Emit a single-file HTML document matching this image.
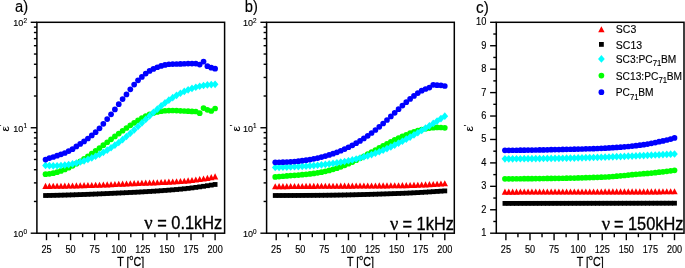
<!DOCTYPE html>
<html><head><meta charset="utf-8"><style>
html,body{margin:0;padding:0;background:#fff;width:685px;height:268px;overflow:hidden}
svg{display:block;will-change:transform}
</style></head><body>
<svg width="685" height="268" viewBox="0 0 685 268">
<rect width="685" height="268" fill="#fff"/>
<g fill="#000000"><rect x="43.14" y="193.11" width="4.8" height="4.8"/><rect x="46.99" y="193.04" width="4.8" height="4.8"/><rect x="50.84" y="192.96" width="4.8" height="4.8"/><rect x="54.70" y="192.88" width="4.8" height="4.8"/><rect x="58.55" y="192.78" width="4.8" height="4.8"/><rect x="62.41" y="192.68" width="4.8" height="4.8"/><rect x="66.26" y="192.57" width="4.8" height="4.8"/><rect x="70.11" y="192.46" width="4.8" height="4.8"/><rect x="73.97" y="192.33" width="4.8" height="4.8"/><rect x="77.82" y="192.20" width="4.8" height="4.8"/><rect x="81.67" y="192.07" width="4.8" height="4.8"/><rect x="85.53" y="191.93" width="4.8" height="4.8"/><rect x="89.38" y="191.78" width="4.8" height="4.8"/><rect x="93.23" y="191.63" width="4.8" height="4.8"/><rect x="97.09" y="191.47" width="4.8" height="4.8"/><rect x="100.94" y="191.31" width="4.8" height="4.8"/><rect x="104.80" y="191.14" width="4.8" height="4.8"/><rect x="108.65" y="190.97" width="4.8" height="4.8"/><rect x="112.50" y="190.80" width="4.8" height="4.8"/><rect x="116.36" y="190.63" width="4.8" height="4.8"/><rect x="120.21" y="190.45" width="4.8" height="4.8"/><rect x="124.06" y="190.27" width="4.8" height="4.8"/><rect x="127.92" y="190.08" width="4.8" height="4.8"/><rect x="131.77" y="189.90" width="4.8" height="4.8"/><rect x="135.63" y="189.70" width="4.8" height="4.8"/><rect x="139.48" y="189.50" width="4.8" height="4.8"/><rect x="143.33" y="189.28" width="4.8" height="4.8"/><rect x="147.19" y="189.05" width="4.8" height="4.8"/><rect x="151.04" y="188.82" width="4.8" height="4.8"/><rect x="154.89" y="188.57" width="4.8" height="4.8"/><rect x="158.75" y="188.30" width="4.8" height="4.8"/><rect x="162.60" y="188.03" width="4.8" height="4.8"/><rect x="166.46" y="187.73" width="4.8" height="4.8"/><rect x="170.31" y="187.43" width="4.8" height="4.8"/><rect x="174.16" y="187.10" width="4.8" height="4.8"/><rect x="178.02" y="186.76" width="4.8" height="4.8"/><rect x="181.87" y="186.38" width="4.8" height="4.8"/><rect x="185.72" y="185.96" width="4.8" height="4.8"/><rect x="189.58" y="185.50" width="4.8" height="4.8"/><rect x="193.43" y="184.99" width="4.8" height="4.8"/><rect x="197.29" y="184.46" width="4.8" height="4.8"/><rect x="201.14" y="183.90" width="4.8" height="4.8"/><rect x="204.99" y="183.31" width="4.8" height="4.8"/><rect x="208.85" y="182.70" width="4.8" height="4.8"/><rect x="212.70" y="182.08" width="4.8" height="4.8"/></g><g fill="#ff0000"><path d="M42.34 188.95L45.54 182.85L48.74 188.95Z"/><path d="M46.19 188.92L49.39 182.82L52.59 188.92Z"/><path d="M50.04 188.87L53.24 182.77L56.44 188.87Z"/><path d="M53.90 188.81L57.10 182.71L60.30 188.81Z"/><path d="M57.75 188.74L60.95 182.64L64.15 188.74Z"/><path d="M61.61 188.67L64.81 182.57L68.01 188.67Z"/><path d="M65.46 188.59L68.66 182.49L71.86 188.59Z"/><path d="M69.31 188.50L72.51 182.40L75.71 188.50Z"/><path d="M73.17 188.41L76.37 182.31L79.57 188.41Z"/><path d="M77.02 188.31L80.22 182.21L83.42 188.31Z"/><path d="M80.87 188.21L84.07 182.11L87.27 188.21Z"/><path d="M84.73 188.11L87.93 182.01L91.13 188.11Z"/><path d="M88.58 188.00L91.78 181.90L94.98 188.00Z"/><path d="M92.43 187.87L95.63 181.77L98.83 187.87Z"/><path d="M96.29 187.73L99.49 181.63L102.69 187.73Z"/><path d="M100.14 187.58L103.34 181.48L106.54 187.58Z"/><path d="M104.00 187.41L107.20 181.31L110.40 187.41Z"/><path d="M107.85 187.23L111.05 181.13L114.25 187.23Z"/><path d="M111.70 187.05L114.90 180.95L118.10 187.05Z"/><path d="M115.56 186.87L118.76 180.77L121.96 186.87Z"/><path d="M119.41 186.69L122.61 180.59L125.81 186.69Z"/><path d="M123.26 186.51L126.46 180.41L129.66 186.51Z"/><path d="M127.12 186.34L130.32 180.24L133.52 186.34Z"/><path d="M130.97 186.17L134.17 180.07L137.37 186.17Z"/><path d="M134.83 186.01L138.03 179.91L141.23 186.01Z"/><path d="M138.68 185.86L141.88 179.76L145.08 185.86Z"/><path d="M142.53 185.71L145.73 179.61L148.93 185.71Z"/><path d="M146.39 185.56L149.59 179.46L152.79 185.56Z"/><path d="M150.24 185.40L153.44 179.30L156.64 185.40Z"/><path d="M154.09 185.24L157.29 179.14L160.49 185.24Z"/><path d="M157.95 185.08L161.15 178.98L164.35 185.08Z"/><path d="M161.80 184.90L165.00 178.80L168.20 184.90Z"/><path d="M165.66 184.70L168.86 178.60L172.06 184.70Z"/><path d="M169.51 184.50L172.71 178.40L175.91 184.50Z"/><path d="M173.36 184.27L176.56 178.17L179.76 184.27Z"/><path d="M177.22 184.02L180.42 177.92L183.62 184.02Z"/><path d="M181.07 183.73L184.27 177.63L187.47 183.73Z"/><path d="M184.92 183.39L188.12 177.29L191.32 183.39Z"/><path d="M188.78 183.00L191.98 176.90L195.18 183.00Z"/><path d="M192.63 182.56L195.83 176.46L199.03 182.56Z"/><path d="M196.49 182.09L199.69 175.99L202.89 182.09Z"/><path d="M200.34 181.55L203.54 175.45L206.74 181.55Z"/><path d="M204.19 180.91L207.39 174.81L210.59 180.91Z"/><path d="M208.05 180.20L211.25 174.10L214.45 180.20Z"/><path d="M211.90 179.43L215.10 173.33L218.30 179.43Z"/></g><g fill="#00ff00"><circle cx="45.54" cy="174.17" r="2.85"/><circle cx="49.39" cy="173.82" r="2.85"/><circle cx="53.24" cy="173.16" r="2.85"/><circle cx="57.10" cy="172.20" r="2.85"/><circle cx="60.95" cy="170.97" r="2.85"/><circle cx="64.81" cy="169.48" r="2.85"/><circle cx="68.66" cy="167.76" r="2.85"/><circle cx="72.51" cy="165.83" r="2.85"/><circle cx="76.37" cy="163.71" r="2.85"/><circle cx="80.22" cy="161.41" r="2.85"/><circle cx="84.07" cy="158.97" r="2.85"/><circle cx="87.93" cy="156.39" r="2.85"/><circle cx="91.78" cy="153.70" r="2.85"/><circle cx="95.63" cy="150.93" r="2.85"/><circle cx="99.49" cy="148.09" r="2.85"/><circle cx="103.34" cy="145.19" r="2.85"/><circle cx="107.20" cy="142.27" r="2.85"/><circle cx="111.05" cy="139.35" r="2.85"/><circle cx="114.90" cy="136.43" r="2.85"/><circle cx="118.76" cy="133.55" r="2.85"/><circle cx="122.61" cy="130.73" r="2.85"/><circle cx="126.46" cy="127.98" r="2.85"/><circle cx="130.32" cy="125.33" r="2.85"/><circle cx="134.17" cy="122.79" r="2.85"/><circle cx="138.03" cy="120.40" r="2.85"/><circle cx="141.88" cy="118.19" r="2.85"/><circle cx="145.73" cy="116.20" r="2.85"/><circle cx="149.59" cy="114.46" r="2.85"/><circle cx="153.44" cy="113.02" r="2.85"/><circle cx="157.29" cy="111.92" r="2.85"/><circle cx="161.15" cy="111.17" r="2.85"/><circle cx="165.00" cy="110.73" r="2.85"/><circle cx="168.86" cy="110.53" r="2.85"/><circle cx="172.71" cy="110.52" r="2.85"/><circle cx="176.56" cy="110.61" r="2.85"/><circle cx="180.42" cy="110.78" r="2.85"/><circle cx="184.27" cy="110.98" r="2.85"/><circle cx="188.12" cy="111.18" r="2.85"/><circle cx="191.98" cy="111.38" r="2.85"/><circle cx="195.83" cy="111.52" r="2.85"/><circle cx="199.69" cy="113.20" r="2.85"/><circle cx="203.54" cy="108.10" r="2.85"/><circle cx="207.39" cy="109.80" r="2.85"/><circle cx="211.25" cy="111.00" r="2.85"/><circle cx="215.10" cy="108.50" r="2.85"/></g><g fill="#00ffff"><path d="M45.54 161.62L48.89 165.47L45.54 169.32L42.19 165.47Z"/><path d="M49.39 161.86L52.74 165.71L49.39 169.56L46.04 165.71Z"/><path d="M53.24 161.94L56.59 165.79L53.24 169.64L49.89 165.79Z"/><path d="M57.10 161.88L60.45 165.73L57.10 169.58L53.75 165.73Z"/><path d="M60.95 161.65L64.30 165.50L60.95 169.35L57.60 165.50Z"/><path d="M64.81 161.27L68.16 165.12L64.81 168.97L61.46 165.12Z"/><path d="M68.66 160.73L72.01 164.58L68.66 168.43L65.31 164.58Z"/><path d="M72.51 160.03L75.86 163.88L72.51 167.73L69.16 163.88Z"/><path d="M76.37 159.16L79.72 163.01L76.37 166.86L73.02 163.01Z"/><path d="M80.22 158.14L83.57 161.99L80.22 165.84L76.87 161.99Z"/><path d="M84.07 156.95L87.42 160.80L84.07 164.65L80.72 160.80Z"/><path d="M87.93 155.60L91.28 159.45L87.93 163.30L84.58 159.45Z"/><path d="M91.78 154.07L95.13 157.92L91.78 161.77L88.43 157.92Z"/><path d="M95.63 152.38L98.98 156.23L95.63 160.08L92.28 156.23Z"/><path d="M99.49 150.53L102.84 154.38L99.49 158.23L96.14 154.38Z"/><path d="M103.34 148.50L106.69 152.35L103.34 156.20L99.99 152.35Z"/><path d="M107.20 146.29L110.55 150.14L107.20 153.99L103.85 150.14Z"/><path d="M111.05 143.92L114.40 147.77L111.05 151.62L107.70 147.77Z"/><path d="M114.90 141.37L118.25 145.22L114.90 149.07L111.55 145.22Z"/><path d="M118.76 138.64L122.11 142.49L118.76 146.34L115.41 142.49Z"/><path d="M122.61 135.74L125.96 139.59L122.61 143.44L119.26 139.59Z"/><path d="M126.46 132.65L129.81 136.50L126.46 140.35L123.11 136.50Z"/><path d="M130.32 129.41L133.67 133.26L130.32 137.11L126.97 133.26Z"/><path d="M134.17 126.03L137.52 129.88L134.17 133.73L130.82 129.88Z"/><path d="M138.03 122.57L141.38 126.42L138.03 130.27L134.68 126.42Z"/><path d="M141.88 119.06L145.23 122.91L141.88 126.76L138.53 122.91Z"/><path d="M145.73 115.54L149.08 119.39L145.73 123.24L142.38 119.39Z"/><path d="M149.59 112.04L152.94 115.89L149.59 119.74L146.24 115.89Z"/><path d="M153.44 108.61L156.79 112.46L153.44 116.31L150.09 112.46Z"/><path d="M157.29 105.29L160.64 109.14L157.29 112.99L153.94 109.14Z"/><path d="M161.15 102.11L164.50 105.96L161.15 109.81L157.80 105.96Z"/><path d="M165.00 99.11L168.35 102.96L165.00 106.81L161.65 102.96Z"/><path d="M168.86 96.33L172.21 100.18L168.86 104.03L165.51 100.18Z"/><path d="M172.71 93.79L176.06 97.64L172.71 101.49L169.36 97.64Z"/><path d="M176.56 91.49L179.91 95.34L176.56 99.19L173.21 95.34Z"/><path d="M180.42 89.42L183.77 93.27L180.42 97.12L177.07 93.27Z"/><path d="M184.27 87.58L187.62 91.43L184.27 95.28L180.92 91.43Z"/><path d="M188.12 85.97L191.47 89.82L188.12 93.67L184.77 89.82Z"/><path d="M191.98 84.57L195.33 88.42L191.98 92.27L188.63 88.42Z"/><path d="M195.83 83.39L199.18 87.24L195.83 91.09L192.48 87.24Z"/><path d="M199.69 82.41L203.04 86.26L199.69 90.11L196.34 86.26Z"/><path d="M203.54 81.64L206.89 85.49L203.54 89.34L200.19 85.49Z"/><path d="M207.39 81.07L210.74 84.92L207.39 88.77L204.04 84.92Z"/><path d="M211.25 80.70L214.60 84.55L211.25 88.40L207.90 84.55Z"/><path d="M215.10 80.51L218.45 84.36L215.10 88.21L211.75 84.36Z"/></g><g fill="#0000ff"><circle cx="45.54" cy="159.54" r="2.85"/><circle cx="49.39" cy="158.07" r="2.85"/><circle cx="53.24" cy="156.99" r="2.85"/><circle cx="57.10" cy="155.70" r="2.85"/><circle cx="60.95" cy="154.32" r="2.85"/><circle cx="64.81" cy="152.98" r="2.85"/><circle cx="68.66" cy="151.12" r="2.85"/><circle cx="72.51" cy="149.15" r="2.85"/><circle cx="76.37" cy="146.45" r="2.85"/><circle cx="80.22" cy="143.92" r="2.85"/><circle cx="84.07" cy="141.41" r="2.85"/><circle cx="87.93" cy="138.52" r="2.85"/><circle cx="91.78" cy="135.45" r="2.85"/><circle cx="95.63" cy="132.18" r="2.85"/><circle cx="99.49" cy="128.31" r="2.85"/><circle cx="103.34" cy="123.87" r="2.85"/><circle cx="107.20" cy="119.08" r="2.85"/><circle cx="111.05" cy="114.31" r="2.85"/><circle cx="114.90" cy="109.40" r="2.85"/><circle cx="118.76" cy="104.22" r="2.85"/><circle cx="122.61" cy="99.04" r="2.85"/><circle cx="126.46" cy="94.46" r="2.85"/><circle cx="130.32" cy="89.32" r="2.85"/><circle cx="134.17" cy="84.60" r="2.85"/><circle cx="138.03" cy="80.37" r="2.85"/><circle cx="141.88" cy="76.94" r="2.85"/><circle cx="145.73" cy="73.56" r="2.85"/><circle cx="149.59" cy="70.95" r="2.85"/><circle cx="153.44" cy="68.92" r="2.85"/><circle cx="157.29" cy="67.24" r="2.85"/><circle cx="161.15" cy="65.89" r="2.85"/><circle cx="165.00" cy="64.88" r="2.85"/><circle cx="168.86" cy="64.25" r="2.85"/><circle cx="172.71" cy="64.03" r="2.85"/><circle cx="176.56" cy="64.00" r="2.85"/><circle cx="180.42" cy="63.96" r="2.85"/><circle cx="184.27" cy="63.77" r="2.85"/><circle cx="188.12" cy="63.62" r="2.85"/><circle cx="191.98" cy="63.60" r="2.85"/><circle cx="195.83" cy="63.60" r="2.85"/><circle cx="199.69" cy="64.60" r="2.85"/><circle cx="203.54" cy="61.60" r="2.85"/><circle cx="207.39" cy="66.20" r="2.85"/><circle cx="211.25" cy="67.70" r="2.85"/><circle cx="215.10" cy="68.70" r="2.85"/></g><g fill="#000000"><rect x="272.84" y="193.10" width="4.8" height="4.8"/><rect x="276.69" y="193.10" width="4.8" height="4.8"/><rect x="280.54" y="193.09" width="4.8" height="4.8"/><rect x="284.40" y="193.08" width="4.8" height="4.8"/><rect x="288.25" y="193.07" width="4.8" height="4.8"/><rect x="292.11" y="193.06" width="4.8" height="4.8"/><rect x="295.96" y="193.04" width="4.8" height="4.8"/><rect x="299.81" y="193.02" width="4.8" height="4.8"/><rect x="303.67" y="192.99" width="4.8" height="4.8"/><rect x="307.52" y="192.97" width="4.8" height="4.8"/><rect x="311.37" y="192.94" width="4.8" height="4.8"/><rect x="315.23" y="192.92" width="4.8" height="4.8"/><rect x="319.08" y="192.89" width="4.8" height="4.8"/><rect x="322.93" y="192.85" width="4.8" height="4.8"/><rect x="326.79" y="192.81" width="4.8" height="4.8"/><rect x="330.64" y="192.76" width="4.8" height="4.8"/><rect x="334.50" y="192.70" width="4.8" height="4.8"/><rect x="338.35" y="192.64" width="4.8" height="4.8"/><rect x="342.20" y="192.57" width="4.8" height="4.8"/><rect x="346.06" y="192.49" width="4.8" height="4.8"/><rect x="349.91" y="192.41" width="4.8" height="4.8"/><rect x="353.76" y="192.32" width="4.8" height="4.8"/><rect x="357.62" y="192.22" width="4.8" height="4.8"/><rect x="361.47" y="192.12" width="4.8" height="4.8"/><rect x="365.33" y="192.02" width="4.8" height="4.8"/><rect x="369.18" y="191.91" width="4.8" height="4.8"/><rect x="373.03" y="191.80" width="4.8" height="4.8"/><rect x="376.89" y="191.68" width="4.8" height="4.8"/><rect x="380.74" y="191.56" width="4.8" height="4.8"/><rect x="384.59" y="191.44" width="4.8" height="4.8"/><rect x="388.45" y="191.31" width="4.8" height="4.8"/><rect x="392.30" y="191.18" width="4.8" height="4.8"/><rect x="396.16" y="191.05" width="4.8" height="4.8"/><rect x="400.01" y="190.91" width="4.8" height="4.8"/><rect x="403.86" y="190.76" width="4.8" height="4.8"/><rect x="407.72" y="190.59" width="4.8" height="4.8"/><rect x="411.57" y="190.40" width="4.8" height="4.8"/><rect x="415.42" y="190.20" width="4.8" height="4.8"/><rect x="419.28" y="189.98" width="4.8" height="4.8"/><rect x="423.13" y="189.75" width="4.8" height="4.8"/><rect x="426.99" y="189.52" width="4.8" height="4.8"/><rect x="430.84" y="189.27" width="4.8" height="4.8"/><rect x="434.69" y="189.02" width="4.8" height="4.8"/><rect x="438.55" y="188.77" width="4.8" height="4.8"/><rect x="442.40" y="188.51" width="4.8" height="4.8"/></g><g fill="#ff0000"><path d="M272.04 189.26L275.24 183.16L278.44 189.26Z"/><path d="M275.89 189.22L279.09 183.12L282.29 189.22Z"/><path d="M279.74 189.18L282.94 183.08L286.14 189.18Z"/><path d="M283.60 189.15L286.80 183.05L290.00 189.15Z"/><path d="M287.45 189.11L290.65 183.01L293.85 189.11Z"/><path d="M291.31 189.07L294.51 182.97L297.71 189.07Z"/><path d="M295.16 189.04L298.36 182.94L301.56 189.04Z"/><path d="M299.01 189.00L302.21 182.90L305.41 189.00Z"/><path d="M302.87 188.97L306.07 182.87L309.27 188.97Z"/><path d="M306.72 188.94L309.92 182.84L313.12 188.94Z"/><path d="M310.57 188.90L313.77 182.80L316.97 188.90Z"/><path d="M314.43 188.87L317.63 182.77L320.83 188.87Z"/><path d="M318.28 188.84L321.48 182.74L324.68 188.84Z"/><path d="M322.13 188.81L325.33 182.71L328.53 188.81Z"/><path d="M325.99 188.78L329.19 182.68L332.39 188.78Z"/><path d="M329.84 188.76L333.04 182.66L336.24 188.76Z"/><path d="M333.70 188.73L336.90 182.63L340.10 188.73Z"/><path d="M337.55 188.71L340.75 182.61L343.95 188.71Z"/><path d="M341.40 188.69L344.60 182.59L347.80 188.69Z"/><path d="M345.26 188.67L348.46 182.57L351.66 188.67Z"/><path d="M349.11 188.65L352.31 182.55L355.51 188.65Z"/><path d="M352.96 188.62L356.16 182.52L359.36 188.62Z"/><path d="M356.82 188.60L360.02 182.50L363.22 188.60Z"/><path d="M360.67 188.58L363.87 182.48L367.07 188.58Z"/><path d="M364.53 188.56L367.73 182.46L370.93 188.56Z"/><path d="M368.38 188.53L371.58 182.43L374.78 188.53Z"/><path d="M372.23 188.50L375.43 182.40L378.63 188.50Z"/><path d="M376.09 188.47L379.29 182.37L382.49 188.47Z"/><path d="M379.94 188.44L383.14 182.34L386.34 188.44Z"/><path d="M383.79 188.40L386.99 182.30L390.19 188.40Z"/><path d="M387.65 188.36L390.85 182.26L394.05 188.36Z"/><path d="M391.50 188.32L394.70 182.22L397.90 188.32Z"/><path d="M395.36 188.27L398.56 182.17L401.76 188.27Z"/><path d="M399.21 188.21L402.41 182.11L405.61 188.21Z"/><path d="M403.06 188.13L406.26 182.03L409.46 188.13Z"/><path d="M406.92 188.02L410.12 181.92L413.32 188.02Z"/><path d="M410.77 187.89L413.97 181.79L417.17 187.89Z"/><path d="M414.62 187.74L417.82 181.64L421.02 187.74Z"/><path d="M418.48 187.57L421.68 181.47L424.88 187.57Z"/><path d="M422.33 187.39L425.53 181.29L428.73 187.39Z"/><path d="M426.19 187.19L429.39 181.09L432.59 187.19Z"/><path d="M430.04 186.99L433.24 180.89L436.44 186.99Z"/><path d="M433.89 186.78L437.09 180.68L440.29 186.78Z"/><path d="M437.75 186.57L440.95 180.47L444.15 186.57Z"/><path d="M441.60 186.36L444.80 180.26L448.00 186.36Z"/></g><g fill="#00ff00"><circle cx="275.24" cy="176.97" r="2.85"/><circle cx="279.09" cy="176.57" r="2.85"/><circle cx="282.94" cy="176.23" r="2.85"/><circle cx="286.80" cy="175.92" r="2.85"/><circle cx="290.65" cy="175.62" r="2.85"/><circle cx="294.51" cy="175.34" r="2.85"/><circle cx="298.36" cy="175.04" r="2.85"/><circle cx="302.21" cy="174.71" r="2.85"/><circle cx="306.07" cy="174.35" r="2.85"/><circle cx="309.92" cy="173.92" r="2.85"/><circle cx="313.77" cy="173.43" r="2.85"/><circle cx="317.63" cy="172.84" r="2.85"/><circle cx="321.48" cy="172.16" r="2.85"/><circle cx="325.33" cy="171.35" r="2.85"/><circle cx="329.19" cy="170.42" r="2.85"/><circle cx="333.04" cy="169.35" r="2.85"/><circle cx="336.90" cy="168.16" r="2.85"/><circle cx="340.75" cy="166.83" r="2.85"/><circle cx="344.60" cy="165.37" r="2.85"/><circle cx="348.46" cy="163.77" r="2.85"/><circle cx="352.31" cy="162.05" r="2.85"/><circle cx="356.16" cy="160.21" r="2.85"/><circle cx="360.02" cy="158.27" r="2.85"/><circle cx="363.87" cy="156.26" r="2.85"/><circle cx="367.73" cy="154.20" r="2.85"/><circle cx="371.58" cy="152.11" r="2.85"/><circle cx="375.43" cy="150.02" r="2.85"/><circle cx="379.29" cy="147.93" r="2.85"/><circle cx="383.14" cy="145.86" r="2.85"/><circle cx="386.99" cy="143.82" r="2.85"/><circle cx="390.85" cy="141.84" r="2.85"/><circle cx="394.70" cy="139.93" r="2.85"/><circle cx="398.56" cy="138.09" r="2.85"/><circle cx="402.41" cy="136.35" r="2.85"/><circle cx="406.26" cy="134.73" r="2.85"/><circle cx="410.12" cy="133.22" r="2.85"/><circle cx="413.97" cy="131.86" r="2.85"/><circle cx="417.82" cy="130.66" r="2.85"/><circle cx="421.68" cy="129.62" r="2.85"/><circle cx="425.53" cy="128.77" r="2.85"/><circle cx="429.39" cy="128.12" r="2.85"/><circle cx="433.24" cy="127.68" r="2.85"/><circle cx="437.09" cy="127.47" r="2.85"/><circle cx="440.95" cy="127.51" r="2.85"/><circle cx="444.80" cy="127.81" r="2.85"/></g><g fill="#00ffff"><path d="M275.24 163.58L278.59 167.43L275.24 171.28L271.89 167.43Z"/><path d="M279.09 163.47L282.44 167.32L279.09 171.17L275.74 167.32Z"/><path d="M282.94 163.34L286.29 167.19L282.94 171.04L279.59 167.19Z"/><path d="M286.80 163.21L290.15 167.06L286.80 170.91L283.45 167.06Z"/><path d="M290.65 163.07L294.00 166.92L290.65 170.77L287.30 166.92Z"/><path d="M294.51 162.91L297.86 166.76L294.51 170.61L291.16 166.76Z"/><path d="M298.36 162.73L301.71 166.58L298.36 170.43L295.01 166.58Z"/><path d="M302.21 162.52L305.56 166.37L302.21 170.22L298.86 166.37Z"/><path d="M306.07 162.29L309.42 166.14L306.07 169.99L302.72 166.14Z"/><path d="M309.92 162.02L313.27 165.87L309.92 169.72L306.57 165.87Z"/><path d="M313.77 161.73L317.12 165.58L313.77 169.43L310.42 165.58Z"/><path d="M317.63 161.39L320.98 165.24L317.63 169.09L314.28 165.24Z"/><path d="M321.48 161.01L324.83 164.86L321.48 168.71L318.13 164.86Z"/><path d="M325.33 160.59L328.68 164.44L325.33 168.29L321.98 164.44Z"/><path d="M329.19 160.12L332.54 163.97L329.19 167.82L325.84 163.97Z"/><path d="M333.04 159.59L336.39 163.44L333.04 167.29L329.69 163.44Z"/><path d="M336.90 159.01L340.25 162.86L336.90 166.71L333.55 162.86Z"/><path d="M340.75 158.37L344.10 162.22L340.75 166.07L337.40 162.22Z"/><path d="M344.60 157.67L347.95 161.52L344.60 165.37L341.25 161.52Z"/><path d="M348.46 156.90L351.81 160.75L348.46 164.60L345.11 160.75Z"/><path d="M352.31 156.06L355.66 159.91L352.31 163.76L348.96 159.91Z"/><path d="M356.16 155.15L359.51 159.00L356.16 162.85L352.81 159.00Z"/><path d="M360.02 154.16L363.37 158.01L360.02 161.86L356.67 158.01Z"/><path d="M363.87 153.09L367.22 156.94L363.87 160.79L360.52 156.94Z"/><path d="M367.73 151.93L371.08 155.78L367.73 159.63L364.38 155.78Z"/><path d="M371.58 150.69L374.93 154.54L371.58 158.39L368.23 154.54Z"/><path d="M375.43 149.35L378.78 153.20L375.43 157.05L372.08 153.20Z"/><path d="M379.29 147.92L382.64 151.77L379.29 155.62L375.94 151.77Z"/><path d="M383.14 146.39L386.49 150.24L383.14 154.09L379.79 150.24Z"/><path d="M386.99 144.77L390.34 148.62L386.99 152.47L383.64 148.62Z"/><path d="M390.85 143.05L394.20 146.90L390.85 150.75L387.50 146.90Z"/><path d="M394.70 141.25L398.05 145.10L394.70 148.95L391.35 145.10Z"/><path d="M398.56 139.36L401.91 143.21L398.56 147.06L395.21 143.21Z"/><path d="M402.41 137.40L405.76 141.25L402.41 145.10L399.06 141.25Z"/><path d="M406.26 135.36L409.61 139.21L406.26 143.06L402.91 139.21Z"/><path d="M410.12 133.26L413.47 137.11L410.12 140.96L406.77 137.11Z"/><path d="M413.97 131.11L417.32 134.96L413.97 138.81L410.62 134.96Z"/><path d="M417.82 128.89L421.17 132.74L417.82 136.59L414.47 132.74Z"/><path d="M421.68 126.63L425.03 130.48L421.68 134.33L418.33 130.48Z"/><path d="M425.53 124.32L428.88 128.17L425.53 132.02L422.18 128.17Z"/><path d="M429.39 121.97L432.74 125.82L429.39 129.67L426.04 125.82Z"/><path d="M433.24 119.59L436.59 123.44L433.24 127.29L429.89 123.44Z"/><path d="M437.09 117.18L440.44 121.03L437.09 124.88L433.74 121.03Z"/><path d="M440.95 114.75L444.30 118.60L440.95 122.45L437.60 118.60Z"/><path d="M444.80 112.30L448.15 116.15L444.80 120.00L441.45 116.15Z"/></g><g fill="#0000ff"><circle cx="275.24" cy="162.29" r="2.85"/><circle cx="279.09" cy="162.25" r="2.85"/><circle cx="282.94" cy="162.15" r="2.85"/><circle cx="286.80" cy="162.00" r="2.85"/><circle cx="290.65" cy="161.78" r="2.85"/><circle cx="294.51" cy="161.50" r="2.85"/><circle cx="298.36" cy="161.14" r="2.85"/><circle cx="302.21" cy="160.70" r="2.85"/><circle cx="306.07" cy="160.17" r="2.85"/><circle cx="309.92" cy="159.56" r="2.85"/><circle cx="313.77" cy="158.85" r="2.85"/><circle cx="317.63" cy="158.04" r="2.85"/><circle cx="321.48" cy="157.12" r="2.85"/><circle cx="325.33" cy="156.09" r="2.85"/><circle cx="329.19" cy="154.95" r="2.85"/><circle cx="333.04" cy="153.67" r="2.85"/><circle cx="336.90" cy="152.28" r="2.85"/><circle cx="340.75" cy="150.74" r="2.85"/><circle cx="344.60" cy="149.07" r="2.85"/><circle cx="348.46" cy="147.25" r="2.85"/><circle cx="352.31" cy="145.29" r="2.85"/><circle cx="356.16" cy="143.16" r="2.85"/><circle cx="360.02" cy="140.88" r="2.85"/><circle cx="363.87" cy="138.43" r="2.85"/><circle cx="367.73" cy="135.81" r="2.85"/><circle cx="371.58" cy="133.01" r="2.85"/><circle cx="375.43" cy="130.02" r="2.85"/><circle cx="379.29" cy="126.85" r="2.85"/><circle cx="383.14" cy="123.50" r="2.85"/><circle cx="386.99" cy="120.00" r="2.85"/><circle cx="390.85" cy="116.41" r="2.85"/><circle cx="394.70" cy="112.78" r="2.85"/><circle cx="398.56" cy="109.17" r="2.85"/><circle cx="402.41" cy="105.62" r="2.85"/><circle cx="406.26" cy="102.19" r="2.85"/><circle cx="410.12" cy="98.93" r="2.85"/><circle cx="413.97" cy="95.88" r="2.85"/><circle cx="417.82" cy="93.11" r="2.85"/><circle cx="421.68" cy="90.67" r="2.85"/><circle cx="425.53" cy="89.00" r="2.85"/><circle cx="429.39" cy="87.60" r="2.85"/><circle cx="433.24" cy="84.80" r="2.85"/><circle cx="437.09" cy="85.20" r="2.85"/><circle cx="440.95" cy="85.30" r="2.85"/><circle cx="444.80" cy="86.00" r="2.85"/></g><g fill="#000000"><rect x="502.54" y="201.00" width="4.8" height="4.8"/><rect x="506.39" y="201.00" width="4.8" height="4.8"/><rect x="510.24" y="200.99" width="4.8" height="4.8"/><rect x="514.10" y="200.99" width="4.8" height="4.8"/><rect x="517.95" y="200.98" width="4.8" height="4.8"/><rect x="521.81" y="200.98" width="4.8" height="4.8"/><rect x="525.66" y="200.97" width="4.8" height="4.8"/><rect x="529.51" y="200.97" width="4.8" height="4.8"/><rect x="533.37" y="200.96" width="4.8" height="4.8"/><rect x="537.22" y="200.96" width="4.8" height="4.8"/><rect x="541.07" y="200.95" width="4.8" height="4.8"/><rect x="544.93" y="200.95" width="4.8" height="4.8"/><rect x="548.78" y="200.95" width="4.8" height="4.8"/><rect x="552.63" y="200.94" width="4.8" height="4.8"/><rect x="556.49" y="200.94" width="4.8" height="4.8"/><rect x="560.34" y="200.93" width="4.8" height="4.8"/><rect x="564.20" y="200.93" width="4.8" height="4.8"/><rect x="568.05" y="200.92" width="4.8" height="4.8"/><rect x="571.90" y="200.92" width="4.8" height="4.8"/><rect x="575.76" y="200.91" width="4.8" height="4.8"/><rect x="579.61" y="200.91" width="4.8" height="4.8"/><rect x="583.46" y="200.90" width="4.8" height="4.8"/><rect x="587.32" y="200.90" width="4.8" height="4.8"/><rect x="591.17" y="200.90" width="4.8" height="4.8"/><rect x="595.03" y="200.89" width="4.8" height="4.8"/><rect x="598.88" y="200.89" width="4.8" height="4.8"/><rect x="602.73" y="200.88" width="4.8" height="4.8"/><rect x="606.59" y="200.88" width="4.8" height="4.8"/><rect x="610.44" y="200.87" width="4.8" height="4.8"/><rect x="614.29" y="200.87" width="4.8" height="4.8"/><rect x="618.15" y="200.86" width="4.8" height="4.8"/><rect x="622.00" y="200.86" width="4.8" height="4.8"/><rect x="625.86" y="200.85" width="4.8" height="4.8"/><rect x="629.71" y="200.85" width="4.8" height="4.8"/><rect x="633.56" y="200.85" width="4.8" height="4.8"/><rect x="637.42" y="200.84" width="4.8" height="4.8"/><rect x="641.27" y="200.84" width="4.8" height="4.8"/><rect x="645.12" y="200.83" width="4.8" height="4.8"/><rect x="648.98" y="200.83" width="4.8" height="4.8"/><rect x="652.83" y="200.82" width="4.8" height="4.8"/><rect x="656.69" y="200.82" width="4.8" height="4.8"/><rect x="660.54" y="200.81" width="4.8" height="4.8"/><rect x="664.39" y="200.81" width="4.8" height="4.8"/><rect x="668.25" y="200.81" width="4.8" height="4.8"/><rect x="672.10" y="200.80" width="4.8" height="4.8"/></g><g fill="#ff0000"><path d="M501.74 194.65L504.94 188.55L508.14 194.65Z"/><path d="M505.59 194.64L508.79 188.54L511.99 194.64Z"/><path d="M509.44 194.64L512.64 188.54L515.84 194.64Z"/><path d="M513.30 194.63L516.50 188.53L519.70 194.63Z"/><path d="M517.15 194.62L520.35 188.52L523.55 194.62Z"/><path d="M521.01 194.62L524.21 188.52L527.41 194.62Z"/><path d="M524.86 194.61L528.06 188.51L531.26 194.61Z"/><path d="M528.71 194.60L531.91 188.50L535.11 194.60Z"/><path d="M532.57 194.60L535.77 188.50L538.97 194.60Z"/><path d="M536.42 194.59L539.62 188.49L542.82 194.59Z"/><path d="M540.27 194.58L543.47 188.48L546.67 194.58Z"/><path d="M544.13 194.58L547.33 188.48L550.53 194.58Z"/><path d="M547.98 194.57L551.18 188.47L554.38 194.57Z"/><path d="M551.83 194.56L555.03 188.46L558.23 194.56Z"/><path d="M555.69 194.55L558.89 188.45L562.09 194.55Z"/><path d="M559.54 194.55L562.74 188.45L565.94 194.55Z"/><path d="M563.40 194.54L566.60 188.44L569.80 194.54Z"/><path d="M567.25 194.53L570.45 188.43L573.65 194.53Z"/><path d="M571.10 194.53L574.30 188.43L577.50 194.53Z"/><path d="M574.96 194.52L578.16 188.42L581.36 194.52Z"/><path d="M578.81 194.51L582.01 188.41L585.21 194.51Z"/><path d="M582.66 194.51L585.86 188.41L589.06 194.51Z"/><path d="M586.52 194.50L589.72 188.40L592.92 194.50Z"/><path d="M590.37 194.49L593.57 188.39L596.77 194.49Z"/><path d="M594.23 194.49L597.43 188.39L600.63 194.49Z"/><path d="M598.08 194.48L601.28 188.38L604.48 194.48Z"/><path d="M601.93 194.47L605.13 188.37L608.33 194.47Z"/><path d="M605.79 194.47L608.99 188.37L612.19 194.47Z"/><path d="M609.64 194.46L612.84 188.36L616.04 194.46Z"/><path d="M613.49 194.45L616.69 188.35L619.89 194.45Z"/><path d="M617.35 194.45L620.55 188.35L623.75 194.45Z"/><path d="M621.20 194.44L624.40 188.34L627.60 194.44Z"/><path d="M625.06 194.43L628.26 188.33L631.46 194.43Z"/><path d="M628.91 194.43L632.11 188.33L635.31 194.43Z"/><path d="M632.76 194.42L635.96 188.32L639.16 194.42Z"/><path d="M636.62 194.41L639.82 188.31L643.02 194.41Z"/><path d="M640.47 194.41L643.67 188.31L646.87 194.41Z"/><path d="M644.32 194.40L647.52 188.30L650.72 194.40Z"/><path d="M648.18 194.39L651.38 188.29L654.58 194.39Z"/><path d="M652.03 194.38L655.23 188.28L658.43 194.38Z"/><path d="M655.89 194.38L659.09 188.28L662.29 194.38Z"/><path d="M659.74 194.37L662.94 188.27L666.14 194.37Z"/><path d="M663.59 194.36L666.79 188.26L669.99 194.36Z"/><path d="M667.45 194.36L670.65 188.26L673.85 194.36Z"/><path d="M671.30 194.35L674.50 188.25L677.70 194.35Z"/></g><g fill="#00ff00"><circle cx="504.94" cy="178.80" r="2.85"/><circle cx="508.79" cy="178.80" r="2.85"/><circle cx="512.64" cy="178.79" r="2.85"/><circle cx="516.50" cy="178.77" r="2.85"/><circle cx="520.35" cy="178.75" r="2.85"/><circle cx="524.21" cy="178.72" r="2.85"/><circle cx="528.06" cy="178.69" r="2.85"/><circle cx="531.91" cy="178.65" r="2.85"/><circle cx="535.77" cy="178.61" r="2.85"/><circle cx="539.62" cy="178.57" r="2.85"/><circle cx="543.47" cy="178.52" r="2.85"/><circle cx="547.33" cy="178.47" r="2.85"/><circle cx="551.18" cy="178.42" r="2.85"/><circle cx="555.03" cy="178.37" r="2.85"/><circle cx="558.89" cy="178.32" r="2.85"/><circle cx="562.74" cy="178.26" r="2.85"/><circle cx="566.60" cy="178.19" r="2.85"/><circle cx="570.45" cy="178.12" r="2.85"/><circle cx="574.30" cy="178.03" r="2.85"/><circle cx="578.16" cy="177.94" r="2.85"/><circle cx="582.01" cy="177.83" r="2.85"/><circle cx="585.86" cy="177.71" r="2.85"/><circle cx="589.72" cy="177.59" r="2.85"/><circle cx="593.57" cy="177.45" r="2.85"/><circle cx="597.43" cy="177.31" r="2.85"/><circle cx="601.28" cy="177.15" r="2.85"/><circle cx="605.13" cy="176.99" r="2.85"/><circle cx="608.99" cy="176.78" r="2.85"/><circle cx="612.84" cy="176.51" r="2.85"/><circle cx="616.69" cy="176.20" r="2.85"/><circle cx="620.55" cy="175.85" r="2.85"/><circle cx="624.40" cy="175.48" r="2.85"/><circle cx="628.26" cy="175.10" r="2.85"/><circle cx="632.11" cy="174.72" r="2.85"/><circle cx="635.96" cy="174.36" r="2.85"/><circle cx="639.82" cy="174.02" r="2.85"/><circle cx="643.67" cy="173.70" r="2.85"/><circle cx="647.52" cy="173.39" r="2.85"/><circle cx="651.38" cy="173.03" r="2.85"/><circle cx="655.23" cy="172.64" r="2.85"/><circle cx="659.09" cy="172.22" r="2.85"/><circle cx="662.94" cy="171.78" r="2.85"/><circle cx="666.79" cy="171.31" r="2.85"/><circle cx="670.65" cy="170.82" r="2.85"/><circle cx="674.50" cy="170.29" r="2.85"/></g><g fill="#00ffff"><path d="M504.94 154.95L508.29 158.80L504.94 162.65L501.59 158.80Z"/><path d="M508.79 154.95L512.14 158.80L508.79 162.65L505.44 158.80Z"/><path d="M512.64 154.94L515.99 158.79L512.64 162.64L509.29 158.79Z"/><path d="M516.50 154.92L519.85 158.77L516.50 162.62L513.15 158.77Z"/><path d="M520.35 154.90L523.70 158.75L520.35 162.60L517.00 158.75Z"/><path d="M524.21 154.87L527.56 158.72L524.21 162.57L520.86 158.72Z"/><path d="M528.06 154.84L531.41 158.69L528.06 162.54L524.71 158.69Z"/><path d="M531.91 154.80L535.26 158.65L531.91 162.50L528.56 158.65Z"/><path d="M535.77 154.76L539.12 158.61L535.77 162.46L532.42 158.61Z"/><path d="M539.62 154.72L542.97 158.57L539.62 162.42L536.27 158.57Z"/><path d="M543.47 154.67L546.82 158.52L543.47 162.37L540.12 158.52Z"/><path d="M547.33 154.62L550.68 158.47L547.33 162.32L543.98 158.47Z"/><path d="M551.18 154.57L554.53 158.42L551.18 162.27L547.83 158.42Z"/><path d="M555.03 154.52L558.38 158.37L555.03 162.22L551.68 158.37Z"/><path d="M558.89 154.47L562.24 158.32L558.89 162.17L555.54 158.32Z"/><path d="M562.74 154.41L566.09 158.26L562.74 162.11L559.39 158.26Z"/><path d="M566.60 154.34L569.95 158.19L566.60 162.04L563.25 158.19Z"/><path d="M570.45 154.27L573.80 158.12L570.45 161.97L567.10 158.12Z"/><path d="M574.30 154.18L577.65 158.03L574.30 161.88L570.95 158.03Z"/><path d="M578.16 154.08L581.51 157.93L578.16 161.78L574.81 157.93Z"/><path d="M582.01 153.98L585.36 157.83L582.01 161.68L578.66 157.83Z"/><path d="M585.86 153.87L589.21 157.72L585.86 161.57L582.51 157.72Z"/><path d="M589.72 153.76L593.07 157.61L589.72 161.46L586.37 157.61Z"/><path d="M593.57 153.65L596.92 157.50L593.57 161.35L590.22 157.50Z"/><path d="M597.43 153.53L600.78 157.38L597.43 161.23L594.08 157.38Z"/><path d="M601.28 153.41L604.63 157.26L601.28 161.11L597.93 157.26Z"/><path d="M605.13 153.28L608.48 157.13L605.13 160.98L601.78 157.13Z"/><path d="M608.99 153.15L612.34 157.00L608.99 160.85L605.64 157.00Z"/><path d="M612.84 153.00L616.19 156.85L612.84 160.70L609.49 156.85Z"/><path d="M616.69 152.85L620.04 156.70L616.69 160.55L613.34 156.70Z"/><path d="M620.55 152.70L623.90 156.55L620.55 160.40L617.20 156.55Z"/><path d="M624.40 152.53L627.75 156.38L624.40 160.23L621.05 156.38Z"/><path d="M628.26 152.37L631.61 156.22L628.26 160.07L624.91 156.22Z"/><path d="M632.11 152.20L635.46 156.05L632.11 159.90L628.76 156.05Z"/><path d="M635.96 152.03L639.31 155.88L635.96 159.73L632.61 155.88Z"/><path d="M639.82 151.86L643.17 155.71L639.82 159.56L636.47 155.71Z"/><path d="M643.67 151.69L647.02 155.54L643.67 159.39L640.32 155.54Z"/><path d="M647.52 151.51L650.87 155.36L647.52 159.21L644.17 155.36Z"/><path d="M651.38 151.32L654.73 155.17L651.38 159.02L648.03 155.17Z"/><path d="M655.23 151.14L658.58 154.99L655.23 158.84L651.88 154.99Z"/><path d="M659.09 150.95L662.44 154.80L659.09 158.65L655.74 154.80Z"/><path d="M662.94 150.75L666.29 154.60L662.94 158.45L659.59 154.60Z"/><path d="M666.79 150.55L670.14 154.40L666.79 158.25L663.44 154.40Z"/><path d="M670.65 150.35L674.00 154.20L670.65 158.05L667.30 154.20Z"/><path d="M674.50 150.14L677.85 153.99L674.50 157.84L671.15 153.99Z"/></g><g fill="#0000ff"><circle cx="504.94" cy="150.30" r="2.85"/><circle cx="508.79" cy="150.29" r="2.85"/><circle cx="512.64" cy="150.26" r="2.85"/><circle cx="516.50" cy="150.24" r="2.85"/><circle cx="520.35" cy="150.20" r="2.85"/><circle cx="524.21" cy="150.16" r="2.85"/><circle cx="528.06" cy="150.12" r="2.85"/><circle cx="531.91" cy="150.08" r="2.85"/><circle cx="535.77" cy="150.02" r="2.85"/><circle cx="539.62" cy="149.95" r="2.85"/><circle cx="543.47" cy="149.88" r="2.85"/><circle cx="547.33" cy="149.79" r="2.85"/><circle cx="551.18" cy="149.71" r="2.85"/><circle cx="555.03" cy="149.62" r="2.85"/><circle cx="558.89" cy="149.53" r="2.85"/><circle cx="562.74" cy="149.44" r="2.85"/><circle cx="566.60" cy="149.35" r="2.85"/><circle cx="570.45" cy="149.26" r="2.85"/><circle cx="574.30" cy="149.17" r="2.85"/><circle cx="578.16" cy="149.08" r="2.85"/><circle cx="582.01" cy="148.98" r="2.85"/><circle cx="585.86" cy="148.87" r="2.85"/><circle cx="589.72" cy="148.76" r="2.85"/><circle cx="593.57" cy="148.63" r="2.85"/><circle cx="597.43" cy="148.50" r="2.85"/><circle cx="601.28" cy="148.35" r="2.85"/><circle cx="605.13" cy="148.17" r="2.85"/><circle cx="608.99" cy="147.95" r="2.85"/><circle cx="612.84" cy="147.71" r="2.85"/><circle cx="616.69" cy="147.44" r="2.85"/><circle cx="620.55" cy="147.16" r="2.85"/><circle cx="624.40" cy="146.85" r="2.85"/><circle cx="628.26" cy="146.50" r="2.85"/><circle cx="632.11" cy="146.11" r="2.85"/><circle cx="635.96" cy="145.68" r="2.85"/><circle cx="639.82" cy="145.22" r="2.85"/><circle cx="643.67" cy="144.69" r="2.85"/><circle cx="647.52" cy="144.07" r="2.85"/><circle cx="651.38" cy="143.36" r="2.85"/><circle cx="655.23" cy="142.54" r="2.85"/><circle cx="659.09" cy="141.72" r="2.85"/><circle cx="662.94" cy="140.90" r="2.85"/><circle cx="666.79" cy="140.01" r="2.85"/><circle cx="670.65" cy="139.03" r="2.85"/><circle cx="674.50" cy="137.97" r="2.85"/></g>
<rect x="36.9" y="22.3" width="187.70" height="210.90" fill="none" stroke="#000" stroke-width="1.5"/><line x1="46.50" y1="233.2" x2="46.50" y2="240.2" stroke="#000" stroke-width="1.4"/><line x1="70.59" y1="233.2" x2="70.59" y2="240.2" stroke="#000" stroke-width="1.4"/><line x1="94.67" y1="233.2" x2="94.67" y2="240.2" stroke="#000" stroke-width="1.4"/><line x1="118.76" y1="233.2" x2="118.76" y2="240.2" stroke="#000" stroke-width="1.4"/><line x1="142.84" y1="233.2" x2="142.84" y2="240.2" stroke="#000" stroke-width="1.4"/><line x1="166.93" y1="233.2" x2="166.93" y2="240.2" stroke="#000" stroke-width="1.4"/><line x1="191.01" y1="233.2" x2="191.01" y2="240.2" stroke="#000" stroke-width="1.4"/><line x1="215.10" y1="233.2" x2="215.10" y2="240.2" stroke="#000" stroke-width="1.4"/><line x1="58.54" y1="233.2" x2="58.54" y2="237.2" stroke="#000" stroke-width="1.4"/><line x1="82.63" y1="233.2" x2="82.63" y2="237.2" stroke="#000" stroke-width="1.4"/><line x1="106.71" y1="233.2" x2="106.71" y2="237.2" stroke="#000" stroke-width="1.4"/><line x1="130.80" y1="233.2" x2="130.80" y2="237.2" stroke="#000" stroke-width="1.4"/><line x1="154.89" y1="233.2" x2="154.89" y2="237.2" stroke="#000" stroke-width="1.4"/><line x1="178.97" y1="233.2" x2="178.97" y2="237.2" stroke="#000" stroke-width="1.4"/><line x1="203.06" y1="233.2" x2="203.06" y2="237.2" stroke="#000" stroke-width="1.4"/><line x1="30.7" y1="233.20" x2="36.9" y2="233.20" stroke="#000" stroke-width="1.4"/><line x1="30.7" y1="127.75" x2="36.9" y2="127.75" stroke="#000" stroke-width="1.4"/><line x1="30.7" y1="22.30" x2="36.9" y2="22.30" stroke="#000" stroke-width="1.4"/><line x1="33.9" y1="201.46" x2="36.9" y2="201.46" stroke="#000" stroke-width="1.4"/><line x1="33.9" y1="182.89" x2="36.9" y2="182.89" stroke="#000" stroke-width="1.4"/><line x1="33.9" y1="169.71" x2="36.9" y2="169.71" stroke="#000" stroke-width="1.4"/><line x1="33.9" y1="159.49" x2="36.9" y2="159.49" stroke="#000" stroke-width="1.4"/><line x1="33.9" y1="151.14" x2="36.9" y2="151.14" stroke="#000" stroke-width="1.4"/><line x1="33.9" y1="144.08" x2="36.9" y2="144.08" stroke="#000" stroke-width="1.4"/><line x1="33.9" y1="137.97" x2="36.9" y2="137.97" stroke="#000" stroke-width="1.4"/><line x1="33.9" y1="132.58" x2="36.9" y2="132.58" stroke="#000" stroke-width="1.4"/><line x1="33.9" y1="96.01" x2="36.9" y2="96.01" stroke="#000" stroke-width="1.4"/><line x1="33.9" y1="77.44" x2="36.9" y2="77.44" stroke="#000" stroke-width="1.4"/><line x1="33.9" y1="64.26" x2="36.9" y2="64.26" stroke="#000" stroke-width="1.4"/><line x1="33.9" y1="54.04" x2="36.9" y2="54.04" stroke="#000" stroke-width="1.4"/><line x1="33.9" y1="45.69" x2="36.9" y2="45.69" stroke="#000" stroke-width="1.4"/><line x1="33.9" y1="38.63" x2="36.9" y2="38.63" stroke="#000" stroke-width="1.4"/><line x1="33.9" y1="32.52" x2="36.9" y2="32.52" stroke="#000" stroke-width="1.4"/><line x1="33.9" y1="27.13" x2="36.9" y2="27.13" stroke="#000" stroke-width="1.4"/><rect x="266.59999999999997" y="22.3" width="187.70" height="210.90" fill="none" stroke="#000" stroke-width="1.5"/><line x1="276.20" y1="233.2" x2="276.20" y2="240.2" stroke="#000" stroke-width="1.4"/><line x1="300.29" y1="233.2" x2="300.29" y2="240.2" stroke="#000" stroke-width="1.4"/><line x1="324.37" y1="233.2" x2="324.37" y2="240.2" stroke="#000" stroke-width="1.4"/><line x1="348.46" y1="233.2" x2="348.46" y2="240.2" stroke="#000" stroke-width="1.4"/><line x1="372.54" y1="233.2" x2="372.54" y2="240.2" stroke="#000" stroke-width="1.4"/><line x1="396.63" y1="233.2" x2="396.63" y2="240.2" stroke="#000" stroke-width="1.4"/><line x1="420.71" y1="233.2" x2="420.71" y2="240.2" stroke="#000" stroke-width="1.4"/><line x1="444.80" y1="233.2" x2="444.80" y2="240.2" stroke="#000" stroke-width="1.4"/><line x1="288.24" y1="233.2" x2="288.24" y2="237.2" stroke="#000" stroke-width="1.4"/><line x1="312.33" y1="233.2" x2="312.33" y2="237.2" stroke="#000" stroke-width="1.4"/><line x1="336.41" y1="233.2" x2="336.41" y2="237.2" stroke="#000" stroke-width="1.4"/><line x1="360.50" y1="233.2" x2="360.50" y2="237.2" stroke="#000" stroke-width="1.4"/><line x1="384.59" y1="233.2" x2="384.59" y2="237.2" stroke="#000" stroke-width="1.4"/><line x1="408.67" y1="233.2" x2="408.67" y2="237.2" stroke="#000" stroke-width="1.4"/><line x1="432.76" y1="233.2" x2="432.76" y2="237.2" stroke="#000" stroke-width="1.4"/><line x1="260.4" y1="233.20" x2="266.59999999999997" y2="233.20" stroke="#000" stroke-width="1.4"/><line x1="260.4" y1="127.75" x2="266.59999999999997" y2="127.75" stroke="#000" stroke-width="1.4"/><line x1="260.4" y1="22.30" x2="266.59999999999997" y2="22.30" stroke="#000" stroke-width="1.4"/><line x1="263.59999999999997" y1="201.46" x2="266.59999999999997" y2="201.46" stroke="#000" stroke-width="1.4"/><line x1="263.59999999999997" y1="182.89" x2="266.59999999999997" y2="182.89" stroke="#000" stroke-width="1.4"/><line x1="263.59999999999997" y1="169.71" x2="266.59999999999997" y2="169.71" stroke="#000" stroke-width="1.4"/><line x1="263.59999999999997" y1="159.49" x2="266.59999999999997" y2="159.49" stroke="#000" stroke-width="1.4"/><line x1="263.59999999999997" y1="151.14" x2="266.59999999999997" y2="151.14" stroke="#000" stroke-width="1.4"/><line x1="263.59999999999997" y1="144.08" x2="266.59999999999997" y2="144.08" stroke="#000" stroke-width="1.4"/><line x1="263.59999999999997" y1="137.97" x2="266.59999999999997" y2="137.97" stroke="#000" stroke-width="1.4"/><line x1="263.59999999999997" y1="132.58" x2="266.59999999999997" y2="132.58" stroke="#000" stroke-width="1.4"/><line x1="263.59999999999997" y1="96.01" x2="266.59999999999997" y2="96.01" stroke="#000" stroke-width="1.4"/><line x1="263.59999999999997" y1="77.44" x2="266.59999999999997" y2="77.44" stroke="#000" stroke-width="1.4"/><line x1="263.59999999999997" y1="64.26" x2="266.59999999999997" y2="64.26" stroke="#000" stroke-width="1.4"/><line x1="263.59999999999997" y1="54.04" x2="266.59999999999997" y2="54.04" stroke="#000" stroke-width="1.4"/><line x1="263.59999999999997" y1="45.69" x2="266.59999999999997" y2="45.69" stroke="#000" stroke-width="1.4"/><line x1="263.59999999999997" y1="38.63" x2="266.59999999999997" y2="38.63" stroke="#000" stroke-width="1.4"/><line x1="263.59999999999997" y1="32.52" x2="266.59999999999997" y2="32.52" stroke="#000" stroke-width="1.4"/><line x1="263.59999999999997" y1="27.13" x2="266.59999999999997" y2="27.13" stroke="#000" stroke-width="1.4"/><rect x="496.29999999999995" y="22.3" width="187.70" height="210.90" fill="none" stroke="#000" stroke-width="1.5"/><line x1="505.90" y1="233.2" x2="505.90" y2="240.2" stroke="#000" stroke-width="1.4"/><line x1="529.99" y1="233.2" x2="529.99" y2="240.2" stroke="#000" stroke-width="1.4"/><line x1="554.07" y1="233.2" x2="554.07" y2="240.2" stroke="#000" stroke-width="1.4"/><line x1="578.16" y1="233.2" x2="578.16" y2="240.2" stroke="#000" stroke-width="1.4"/><line x1="602.24" y1="233.2" x2="602.24" y2="240.2" stroke="#000" stroke-width="1.4"/><line x1="626.33" y1="233.2" x2="626.33" y2="240.2" stroke="#000" stroke-width="1.4"/><line x1="650.41" y1="233.2" x2="650.41" y2="240.2" stroke="#000" stroke-width="1.4"/><line x1="674.50" y1="233.2" x2="674.50" y2="240.2" stroke="#000" stroke-width="1.4"/><line x1="517.94" y1="233.2" x2="517.94" y2="237.2" stroke="#000" stroke-width="1.4"/><line x1="542.03" y1="233.2" x2="542.03" y2="237.2" stroke="#000" stroke-width="1.4"/><line x1="566.11" y1="233.2" x2="566.11" y2="237.2" stroke="#000" stroke-width="1.4"/><line x1="590.20" y1="233.2" x2="590.20" y2="237.2" stroke="#000" stroke-width="1.4"/><line x1="614.29" y1="233.2" x2="614.29" y2="237.2" stroke="#000" stroke-width="1.4"/><line x1="638.37" y1="233.2" x2="638.37" y2="237.2" stroke="#000" stroke-width="1.4"/><line x1="662.46" y1="233.2" x2="662.46" y2="237.2" stroke="#000" stroke-width="1.4"/><line x1="490.09999999999997" y1="233.20" x2="496.29999999999995" y2="233.20" stroke="#000" stroke-width="1.4"/><line x1="490.09999999999997" y1="209.77" x2="496.29999999999995" y2="209.77" stroke="#000" stroke-width="1.4"/><line x1="490.09999999999997" y1="186.33" x2="496.29999999999995" y2="186.33" stroke="#000" stroke-width="1.4"/><line x1="490.09999999999997" y1="162.90" x2="496.29999999999995" y2="162.90" stroke="#000" stroke-width="1.4"/><line x1="490.09999999999997" y1="139.47" x2="496.29999999999995" y2="139.47" stroke="#000" stroke-width="1.4"/><line x1="490.09999999999997" y1="116.03" x2="496.29999999999995" y2="116.03" stroke="#000" stroke-width="1.4"/><line x1="490.09999999999997" y1="92.60" x2="496.29999999999995" y2="92.60" stroke="#000" stroke-width="1.4"/><line x1="490.09999999999997" y1="69.17" x2="496.29999999999995" y2="69.17" stroke="#000" stroke-width="1.4"/><line x1="490.09999999999997" y1="45.73" x2="496.29999999999995" y2="45.73" stroke="#000" stroke-width="1.4"/><line x1="490.09999999999997" y1="22.30" x2="496.29999999999995" y2="22.30" stroke="#000" stroke-width="1.4"/><line x1="493.29999999999995" y1="221.48" x2="496.29999999999995" y2="221.48" stroke="#000" stroke-width="1.4"/><line x1="493.29999999999995" y1="198.05" x2="496.29999999999995" y2="198.05" stroke="#000" stroke-width="1.4"/><line x1="493.29999999999995" y1="174.62" x2="496.29999999999995" y2="174.62" stroke="#000" stroke-width="1.4"/><line x1="493.29999999999995" y1="151.18" x2="496.29999999999995" y2="151.18" stroke="#000" stroke-width="1.4"/><line x1="493.29999999999995" y1="127.75" x2="496.29999999999995" y2="127.75" stroke="#000" stroke-width="1.4"/><line x1="493.29999999999995" y1="104.32" x2="496.29999999999995" y2="104.32" stroke="#000" stroke-width="1.4"/><line x1="493.29999999999995" y1="80.88" x2="496.29999999999995" y2="80.88" stroke="#000" stroke-width="1.4"/><line x1="493.29999999999995" y1="57.45" x2="496.29999999999995" y2="57.45" stroke="#000" stroke-width="1.4"/><line x1="493.29999999999995" y1="34.02" x2="496.29999999999995" y2="34.02" stroke="#000" stroke-width="1.4"/>
<g font-family='"Liberation Sans", sans-serif' fill="#000" stroke="#000" stroke-width="0.15"><text transform="translate(15.00,12.00) scale(0.92,1)" font-size="16">a)</text><text transform="translate(46.50,252.80) scale(0.87,1)" font-size="10.5" text-anchor="middle">25</text><text transform="translate(70.59,252.80) scale(0.87,1)" font-size="10.5" text-anchor="middle">50</text><text transform="translate(94.67,252.80) scale(0.87,1)" font-size="10.5" text-anchor="middle">75</text><text transform="translate(118.76,252.80) scale(0.87,1)" font-size="10.5" text-anchor="middle">100</text><text transform="translate(142.84,252.80) scale(0.87,1)" font-size="10.5" text-anchor="middle">125</text><text transform="translate(166.93,252.80) scale(0.87,1)" font-size="10.5" text-anchor="middle">150</text><text transform="translate(191.01,252.80) scale(0.87,1)" font-size="10.5" text-anchor="middle">175</text><text transform="translate(215.10,252.80) scale(0.87,1)" font-size="10.5" text-anchor="middle">200</text><text transform="translate(130.80,265.50) scale(0.89,1)" font-size="12" text-anchor="middle" stroke-width="0.25">T [<tspan font-size="7.6" dy="-5.2">o</tspan><tspan dy="5.2" dx="0.3">C]</tspan></text><text transform="translate(9.10,128) rotate(-90)" font-size="11.8" text-anchor="middle">ε<tspan font-size="8.5" dy="-3.8">'</tspan></text><text transform="translate(23.20,237.30) scale(0.92,1)" font-size="9.8" text-anchor="end">10</text><text transform="translate(23.40,233.50) scale(0.94,1)" font-size="6.8">0</text><text transform="translate(23.20,131.85) scale(0.92,1)" font-size="9.8" text-anchor="end">10</text><text transform="translate(23.40,128.05) scale(0.94,1)" font-size="6.8">1</text><text transform="translate(23.20,26.40) scale(0.92,1)" font-size="9.8" text-anchor="end">10</text><text transform="translate(23.40,22.60) scale(0.94,1)" font-size="6.8">2</text><text transform="translate(244.70,12.00) scale(0.92,1)" font-size="16">b)</text><text transform="translate(276.20,252.80) scale(0.87,1)" font-size="10.5" text-anchor="middle">25</text><text transform="translate(300.29,252.80) scale(0.87,1)" font-size="10.5" text-anchor="middle">50</text><text transform="translate(324.37,252.80) scale(0.87,1)" font-size="10.5" text-anchor="middle">75</text><text transform="translate(348.46,252.80) scale(0.87,1)" font-size="10.5" text-anchor="middle">100</text><text transform="translate(372.54,252.80) scale(0.87,1)" font-size="10.5" text-anchor="middle">125</text><text transform="translate(396.63,252.80) scale(0.87,1)" font-size="10.5" text-anchor="middle">150</text><text transform="translate(420.71,252.80) scale(0.87,1)" font-size="10.5" text-anchor="middle">175</text><text transform="translate(444.80,252.80) scale(0.87,1)" font-size="10.5" text-anchor="middle">200</text><text transform="translate(360.50,265.50) scale(0.89,1)" font-size="12" text-anchor="middle" stroke-width="0.25">T [<tspan font-size="7.6" dy="-5.2">o</tspan><tspan dy="5.2" dx="0.3">C]</tspan></text><text transform="translate(240.00,128) rotate(-90)" font-size="11.8" text-anchor="middle">ε<tspan font-size="8.5" dy="-3.8">'</tspan></text><text transform="translate(252.90,237.30) scale(0.92,1)" font-size="9.8" text-anchor="end">10</text><text transform="translate(253.10,233.50) scale(0.94,1)" font-size="6.8">0</text><text transform="translate(252.90,131.85) scale(0.92,1)" font-size="9.8" text-anchor="end">10</text><text transform="translate(253.10,128.05) scale(0.94,1)" font-size="6.8">1</text><text transform="translate(252.90,26.40) scale(0.92,1)" font-size="9.8" text-anchor="end">10</text><text transform="translate(253.10,22.60) scale(0.94,1)" font-size="6.8">2</text><text transform="translate(476.00,12.60) scale(0.92,1)" font-size="16.6">c)</text><text transform="translate(505.90,252.80) scale(0.87,1)" font-size="10.5" text-anchor="middle">25</text><text transform="translate(529.99,252.80) scale(0.87,1)" font-size="10.5" text-anchor="middle">50</text><text transform="translate(554.07,252.80) scale(0.87,1)" font-size="10.5" text-anchor="middle">75</text><text transform="translate(578.16,252.80) scale(0.87,1)" font-size="10.5" text-anchor="middle">100</text><text transform="translate(602.24,252.80) scale(0.87,1)" font-size="10.5" text-anchor="middle">125</text><text transform="translate(626.33,252.80) scale(0.87,1)" font-size="10.5" text-anchor="middle">150</text><text transform="translate(650.41,252.80) scale(0.87,1)" font-size="10.5" text-anchor="middle">175</text><text transform="translate(674.50,252.80) scale(0.87,1)" font-size="10.5" text-anchor="middle">200</text><text transform="translate(590.20,265.50) scale(0.89,1)" font-size="12" text-anchor="middle" stroke-width="0.25">T [<tspan font-size="7.6" dy="-5.2">o</tspan><tspan dy="5.2" dx="0.3">C]</tspan></text><text transform="translate(473.30,128) rotate(-90)" font-size="11.8" text-anchor="middle">ε<tspan font-size="8.5" dy="-3.8">'</tspan></text><text transform="translate(486.40,236.10) scale(0.9,1)" font-size="10.3" text-anchor="end">1</text><text transform="translate(486.40,212.67) scale(0.9,1)" font-size="10.3" text-anchor="end">2</text><text transform="translate(486.40,189.23) scale(0.9,1)" font-size="10.3" text-anchor="end">3</text><text transform="translate(486.40,165.80) scale(0.9,1)" font-size="10.3" text-anchor="end">4</text><text transform="translate(486.40,142.37) scale(0.9,1)" font-size="10.3" text-anchor="end">5</text><text transform="translate(486.40,118.93) scale(0.9,1)" font-size="10.3" text-anchor="end">6</text><text transform="translate(486.40,95.50) scale(0.9,1)" font-size="10.3" text-anchor="end">7</text><text transform="translate(486.40,72.07) scale(0.9,1)" font-size="10.3" text-anchor="end">8</text><text transform="translate(486.40,48.63) scale(0.9,1)" font-size="10.3" text-anchor="end">9</text><text transform="translate(486.40,25.20) scale(0.9,1)" font-size="10.3" text-anchor="end">10</text><text transform="translate(144.15,228.70) scale(1.0,1)" font-family="Liberation Serif" font-size="18.5" stroke-width="0.3">ν</text><text transform="translate(222.20,228.70) scale(0.91,1)" font-size="18" text-anchor="end" stroke-width="0.35">= 0.1kHz</text><text transform="translate(390.05,229.60) scale(1.0,1)" font-family="Liberation Serif" font-size="18.5" stroke-width="0.3">ν</text><text transform="translate(453.90,229.60) scale(0.91,1)" font-size="18" text-anchor="end" stroke-width="0.35">= 1kHz</text><text transform="translate(601.65,229.70) scale(1.0,1)" font-family="Liberation Serif" font-size="18.5" stroke-width="0.3">ν</text><text transform="translate(683.50,229.70) scale(0.91,1)" font-size="18" text-anchor="end" stroke-width="0.35">= 150kHz</text><text transform="translate(615.80,33.45) scale(0.93,1)" font-size="11.3" stroke-width="0.15">SC3</text><text transform="translate(615.80,48.60) scale(0.93,1)" font-size="11.3" stroke-width="0.15">SC13</text><text transform="translate(615.80,63.10) scale(0.905,1)" font-size="11.3" stroke-width="0.15">SC3:PC<tspan font-size="8.6" dy="3.3">71</tspan><tspan dy="-3.3" dx="-0.4">BM</tspan></text><text transform="translate(615.80,79.80) scale(0.905,1)" font-size="11.3" stroke-width="0.15">SC13:PC<tspan font-size="8.6" dy="3.3">71</tspan><tspan dy="-3.3" dx="-0.4">BM</tspan></text><text transform="translate(615.80,96.40) scale(0.905,1)" font-size="11.3" stroke-width="0.15">PC<tspan font-size="8.6" dy="3.3">71</tspan><tspan dy="-3.3" dx="-0.4">BM</tspan></text></g><g fill="#ff0000"><path d="M598.20 32.30L601.40 26.20L604.60 32.30Z"/></g><g fill="#000000"><rect x="599.00" y="42.00" width="4.8" height="4.8"/></g><g fill="#00ffff"><path d="M601.40 55.05L604.75 58.90L601.40 62.75L598.05 58.90Z"/></g><g fill="#00ff00"><circle cx="601.40" cy="75.60" r="2.85"/></g><g fill="#0000ff"><circle cx="601.40" cy="92.20" r="2.85"/></g>
</svg>
</body></html>
